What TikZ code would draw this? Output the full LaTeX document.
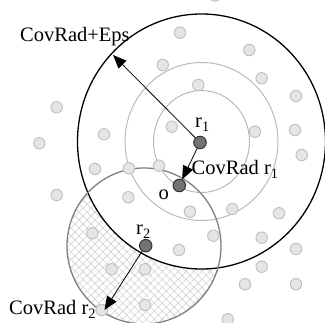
\documentclass[tikz,border=0pt]{standalone}
\usepackage{fontspec}
\setmainfont{Liberation Serif}
\usetikzlibrary{arrows.meta, patterns.meta}

\begin{document}
\begin{tikzpicture}[x=1pt, y=-1pt,
    font=\fontsize{20.5}{24}\selectfont,
    pt/.style={circle, minimum size=11.5pt, inner sep=0pt, line width=0.9pt, draw=black!25, fill=black!10},
    keypt/.style={circle, minimum size=12.5pt, inner sep=0pt, line width=1pt, draw=black!80, fill=black!55},
    ring/.style={line width=1pt, draw=black!27},
    arrow/.style={-{Triangle[length=13.5pt, width=11pt]}, line width=0.8pt},
    lbl/.style={inner sep=0pt, anchor=base west}
]
\useasboundingbox (0,0) rectangle (325,323);
\coordinate (c1) at (201.5,141.5);
\coordinate (c2) at (144,246);
\begin{scope}
\clip (c2) ellipse [x radius=77pt, y radius=78pt];
\fill[pattern={Hatch[angle=45, distance=5.6pt, line width=0.6pt]}, pattern color=black!18, even odd rule]
    (0,0) rectangle (325,330) (c1) ellipse [x radius=124pt, y radius=127.5pt];
\end{scope}
\draw[ring] (c1) ellipse [x radius=48pt, y radius=51pt];
\draw[ring] (c1) ellipse [x radius=76.5pt, y radius=79pt];
\draw[line width=1.3pt] (c1) ellipse [x radius=124pt, y radius=127.5pt];
\draw[line width=1.3pt, draw=black!50] (c2) ellipse [x radius=77pt, y radius=78pt];
\foreach \x/\y [count=\i] in {215/-4.5, 180/32.7, 249.3/50, 162.7/65, 261.7/78.3, 198.3/85, 296/96,
    56.7/107.3, 171.7/126.7, 255/131.7, 295/130, 104/134.3, 39.3/143.3, 301.7/155,
    95/169, 129/168.3, 159/165.7, 56.7/195, 128.3/197.3, 190/211.7, 232.3/209, 279/213.3,
    92.3/233.3, 213.3/235.7, 261.7/237.7, 179/250, 296/249, 111.7/269.3, 145/269.3,
    261.7/266.7, 245/284.3, 296/284.3, 145/305, 101.7/310, 227.7/319.3}
    \node[pt] (p\i) at (\x,\y) {};
\node[keypt] (r1) at (200,142.5) {};
\node[keypt] (o) at (179.3,185.5) {};
\node[keypt] (r2) at (145.7,245.7) {};
\coordinate (epsend) at (113,55);
\coordinate (r2end) at (104.5,310);
\draw[arrow] (r1) -- (epsend);
\draw[arrow] (r1) -- (o);
\draw[arrow] (r2) -- (r2end);
\node[lbl] (epslbl) at (20,41.5) {CovRad+Eps};
\node[lbl] (r1lbl) at (195,128) {r\textsubscript{1}};
\node[lbl] (cov1lbl) at (191.5,175) {CovRad r\textsubscript{1}};
\node[lbl] (olbl) at (158.5,200) {o};
\node[lbl] (r2lbl) at (136,235) {r\textsubscript{2}};
\node[lbl] (cov2lbl) at (9,315) {CovRad r\textsubscript{2}};
\end{tikzpicture}
\end{document}
